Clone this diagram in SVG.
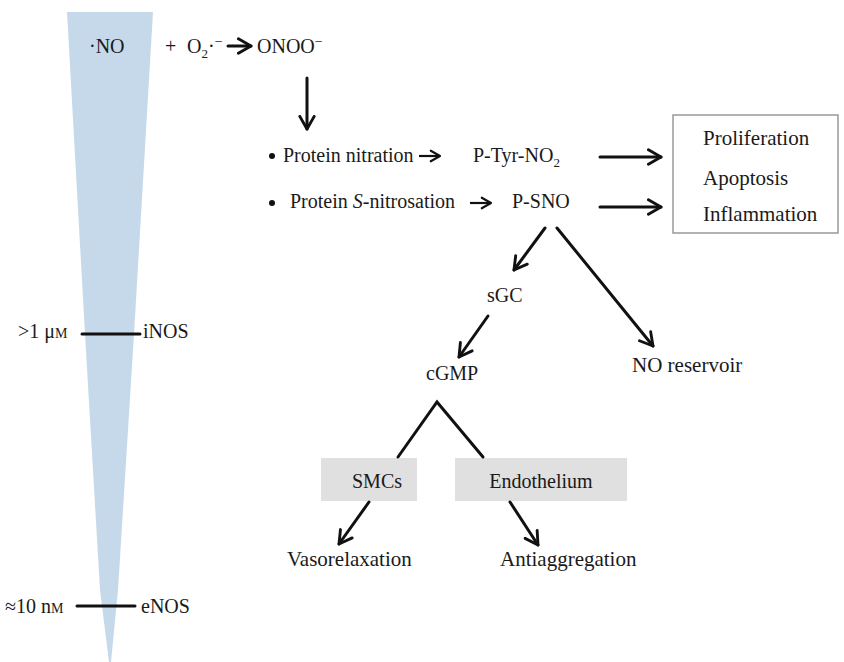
<svg xmlns="http://www.w3.org/2000/svg" width="844" height="662" viewBox="0 0 844 662">
<style>
text{font-family:"Liberation Serif","Times New Roman","DejaVu Serif",serif;font-size:20px;fill:#1a1a1a}
text.l{font-size:21px}
.c{stroke:#111;stroke-width:3;fill:none;stroke-linecap:round}
.t{stroke:#111;stroke-width:2.2;fill:none}
.g{fill:#e0e0e0}
</style>
<defs>
<marker id="ah" viewBox="0 0 10 10" refX="8" refY="5" markerWidth="6" markerHeight="6" orient="auto" markerUnits="strokeWidth">
<path d="M1,1 L8,5 L1,9" fill="none" stroke="#111" stroke-width="1.6" stroke-linecap="round" stroke-linejoin="round"/>
</marker>
</defs>
<g id="gradient-wedge">
<polygon points="67,12 153,12 134,334 118,590 111,662 109,662 100,590 85,334" fill="#c6d9ea"/>
</g>
<g id="no-radical"><text x="89" y="53">·NO</text></g>
<g id="reaction"><text x="165" y="53">+</text><text x="187" y="53">O<tspan font-size="13" dy="5">2</tspan><tspan dy="-5">·</tspan><tspan font-size="14" dy="-7">−</tspan></text></g>
<g id="onoo"><text x="257" y="53">ONOO<tspan font-size="14" dy="-7">−</tspan></text></g>
<g id="nitration"><circle cx="272" cy="156" r="3" fill="#111"/><text x="283" y="162">Protein nitration</text></g>
<g id="snitrosation"><circle cx="272" cy="203" r="3" fill="#111"/><text x="290" y="208">Protein <tspan font-style="italic">S</tspan>-nitrosation</text></g>
<g id="ptyr"><text x="473" y="162">P-Tyr-NO<tspan font-size="13" dy="5">2</tspan></text></g>
<g id="psno"><text x="512" y="208">P-SNO</text></g>
<g id="effects">
<rect x="673" y="115" width="165" height="118" fill="#fff" stroke="#999" stroke-width="1.5"/>
<text class="l" x="703" y="145">Proliferation</text>
<text class="l" x="703" y="185">Apoptosis</text>
<text class="l" x="703" y="221">Inflammation</text>
</g>
<g id="sgc"><text x="487" y="302">sGC</text></g>
<g id="cgmp"><text x="426" y="380">cGMP</text></g>
<g id="no-reservoir"><text class="l" x="632" y="372">NO reservoir</text></g>
<g id="smcs"><rect class="g" x="321" y="458" width="96" height="43"/><text x="377" y="488" text-anchor="middle">SMCs</text></g>
<g id="endothelium"><rect class="g" x="455" y="458" width="172" height="43"/><text x="541" y="488" text-anchor="middle">Endothelium</text></g>
<g id="vasorelaxation"><text class="l" x="287" y="566">Vasorelaxation</text></g>
<g id="antiaggregation"><text class="l" x="500" y="566">Antiaggregation</text></g>
<g id="inos"><text x="18" y="338">&gt;1 μ<tspan font-size="14">M</tspan></text><text x="143" y="338">iNOS</text></g>
<g id="enos"><text x="5" y="613">≈10 n<tspan font-size="14">M</tspan></text><text x="141" y="613">eNOS</text></g>
<g id="connectors">
<line class="c" x1="228" y1="46" x2="251" y2="46" marker-end="url(#ah)"/>
<line class="c" x1="307" y1="78" x2="307" y2="129" marker-end="url(#ah)"/>
<line class="t" x1="419" y1="156" x2="440" y2="156" marker-end="url(#ah)"/>
<line class="t" x1="470" y1="203" x2="491" y2="203" marker-end="url(#ah)"/>
<line class="c" x1="600" y1="157" x2="661" y2="157" marker-end="url(#ah)"/>
<line class="c" x1="600" y1="207" x2="661" y2="207" marker-end="url(#ah)"/>
<line class="c" x1="545" y1="228" x2="514" y2="270" marker-end="url(#ah)"/>
<line class="c" x1="557" y1="228" x2="653" y2="346" marker-end="url(#ah)"/>
<line class="c" x1="488" y1="316" x2="459" y2="357" marker-end="url(#ah)"/>
<polyline class="c" points="398,457 437,402 483,457" stroke-linecap="butt"/>
<line class="c" x1="369" y1="502" x2="339" y2="544" marker-end="url(#ah)"/>
<line class="c" x1="510" y1="502" x2="538" y2="545" marker-end="url(#ah)"/>
<line class="c" x1="82" y1="334" x2="140" y2="334" stroke-linecap="butt"/>
<line class="c" x1="77" y1="606" x2="135" y2="606" stroke-linecap="butt"/>
</g>
</svg>
